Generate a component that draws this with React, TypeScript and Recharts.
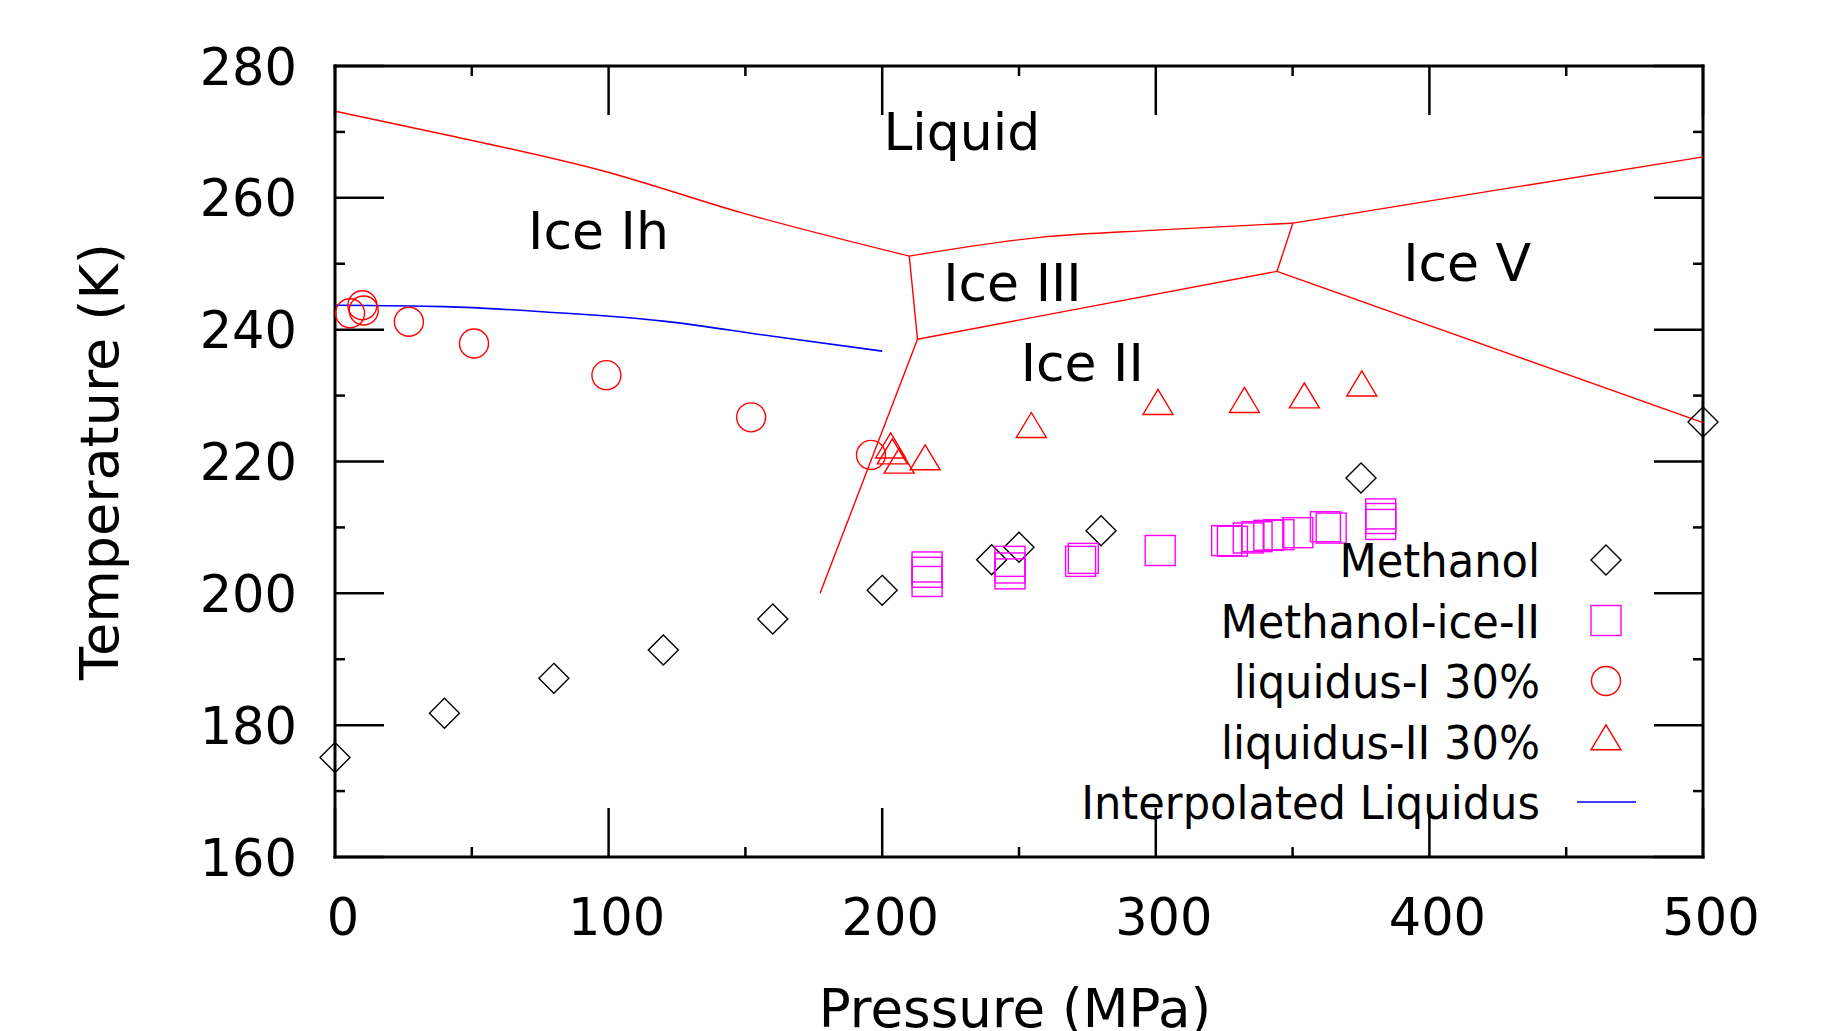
import React from 'react';
import { ScatterChart, Scatter, XAxis, YAxis, Legend } from 'recharts';

const FONT = '"DejaVu Sans", sans-serif';
const RED = '#ff0000';
const MAGENTA = '#ff00ff';
const BLUE = '#0000ff';
const BLACK = '#000000';

const W = 1833;
const H = 1031;

// tick values (major + minor)
const xTicks = [0, 50, 100, 150, 200, 250, 300, 350, 400, 450, 500];
const yTicks = [160, 170, 180, 190, 200, 210, 220, 230, 240, 250, 260, 270, 280];

// [pressure MPa, temperature K]
const methanol = [
  [0, 175.1], [40, 181.8], [80, 187.1], [120, 191.4], [160, 196.1], [200, 200.45],
  [240, 205.1], [250, 207.0], [280, 209.5], [375, 217.5], [500, 226.0],
];
const methanolIceII = [
  [216.4, 204.0], [216.4, 203.2], [216.4, 201.8],
  [246.7, 204.85], [246.7, 203.85], [246.7, 202.95],
  [272.5, 204.85], [273.5, 205.3],
  [301.6, 206.5],
  [325.9, 208.0], [328, 207.9], [333.8, 208.4], [337, 208.6], [341.3, 208.8],
  [345, 208.9], [351.9, 209.2], [362, 210.1], [364.1, 209.9],
  [382.2, 212.05], [382.2, 211.35], [382.2, 210.45],
];
const liquidusI = [
  [5.5, 242.5], [10, 243.7], [10.5, 242.9], [27, 241.2], [50.8, 237.9],
  [99.2, 233.1], [152.1, 226.7], [195.9, 221.0],
];
const liquidusII = [
  [203.1, 221.8], [203.7, 220.9], [206.2, 219.5], [215.7, 220.0], [254.5, 224.9],
  [300.8, 228.4], [332.4, 228.7], [354.3, 229.4], [375.3, 231.2],
];
const interpolated = [
  [0, 243.7], [40, 243.5], [80, 242.6], [120, 241.3], [160, 239.0], [200, 236.75],
];

// phase boundaries of pure water ice
const ihLiquid = [[0, 273.15], [41.3, 269.5], [98.7, 264.0], [149.4, 257.65], [209.9, 251.165]];
const iiiLiquid = [[209.9, 251.165], [257.8, 254.0], [300, 255.1], [350.1, 256.164]];
const vLiquid = [[350.1, 256.164], [425, 261.2], [500, 266.2]];
const ihIII = [[209.9, 251.165], [212.9, 238.55]];
const ihII = [[212.9, 238.55], [177.3, 200]];
const iiIII = [[212.9, 238.55], [344.3, 248.85]];
const iiiV = [[344.3, 248.85], [350.1, 256.164]];
const iiV = [[344.3, 248.85], [500, 225.9]];
const boundaries = [ihLiquid, iiiLiquid, vLiquid, ihIII, ihII, iiIII, iiiV, iiV];

const regionNames = ['Liquid', 'Ice Ih', 'Ice III', 'Ice II', 'Ice V'];
const regionPos = [[229.1, 270.2], [96.3, 255.1], [247.6, 247.3], [273.1, 235.1], [413.8, 250.2]];

const toPts = (arr: number[][]) => arr.map(([p, t]) => ({ p, t }));
const regions = regionPos.map(([p, t], i) => ({ p, t, name: regionNames[i] }));

type Marker = 'diamond' | 'square' | 'circle' | 'triangle';

const drawMarker = (marker: Marker, cx: number, cy: number, color: string) => {
  const sw = 1.4;
  switch (marker) {
    case 'diamond':
      return <path d={`M${cx},${cy - 15}L${cx + 15},${cy}L${cx},${cy + 15}L${cx - 15},${cy}Z`} fill="none" stroke={color} strokeWidth={sw} />;
    case 'square':
      return <rect x={cx - 15} y={cy - 15} width={30} height={30} fill="none" stroke={color} strokeWidth={sw} />;
    case 'circle':
      return <circle cx={cx} cy={cy} r={14.5} fill="none" stroke={color} strokeWidth={sw} />;
    case 'triangle':
      return <path d={`M${cx},${cy - 16.7}L${cx + 15},${cy + 8.3}L${cx - 15},${cy + 8.3}Z`} fill="none" stroke={color} strokeWidth={sw} />;
    default:
      return <g />;
  }
};

const pointSeries: { name: string; data: number[][]; color: string; marker: Marker }[] = [
  { name: 'Methanol', data: methanol, color: BLACK, marker: 'diamond' },
  { name: 'Methanol-ice-II', data: methanolIceII, color: MAGENTA, marker: 'square' },
  { name: 'liquidus-I 30%', data: liquidusI, color: RED, marker: 'circle' },
  { name: 'liquidus-II 30%', data: liquidusII, color: RED, marker: 'triangle' },
];

const MAJOR = 49;
const MINOR = 10;
const TICK_W = 2.5;

const BottomTick = ({ x, y, payload }: any) => {
  const major = payload.value % 100 === 0;
  return (
    <g>
      <line x1={x} y1={y} x2={x} y2={y - (major ? MAJOR : MINOR)} stroke={BLACK} strokeWidth={TICK_W} />
      {major && (
        <text x={x + 8} y={y + 78} textAnchor="middle" fontSize={51} fontFamily={FONT} fill={BLACK}>
          {payload.value}
        </text>
      )}
    </g>
  );
};

const TopTick = ({ x, y, payload }: any) => {
  const major = payload.value % 100 === 0;
  return <line x1={x} y1={y} x2={x} y2={y + (major ? MAJOR : MINOR)} stroke={BLACK} strokeWidth={TICK_W} />;
};

const LeftTick = ({ x, y, payload }: any) => {
  const major = payload.value % 20 === 0;
  return (
    <g>
      <line x1={x} y1={y} x2={x + (major ? MAJOR : MINOR)} y2={y} stroke={BLACK} strokeWidth={TICK_W} />
      {major && (
        <text x={x - 38} y={y} dy={18.5} textAnchor="end" fontSize={51} fontFamily={FONT} fill={BLACK}>
          {payload.value}
        </text>
      )}
    </g>
  );
};

const RightTick = ({ x, y, payload }: any) => {
  const major = payload.value % 20 === 0;
  return <line x1={x} y1={y} x2={x - (major ? MAJOR : MINOR)} y2={y} stroke={BLACK} strokeWidth={TICK_W} />;
};

const LEGEND_LEFT = 934;
const LEGEND_TOP = 530;
const ROW = 60.5;

const renderLegend = () => {
  const rows = [
    ...pointSeries.map((s) => ({ name: s.name, color: s.color, marker: s.marker as Marker | 'line' })),
    { name: 'Interpolated Liquidus', color: BLUE, marker: 'line' as const },
  ];
  return (
    <svg width={704} height={304} style={{ overflow: 'visible' }}>
      {rows.map((r, i) => {
        const cy = 30 + i * ROW;
        return (
          <g key={r.name}>
            <text
              transform={`translate(606, ${cy}) scale(0.92, 1)`}
              dy={17}
              textAnchor="end"
              fontSize={47}
              fontFamily={FONT}
              fill={BLACK}
            >
              {r.name}
            </text>
            {r.marker === 'line' ? (
              <line x1={643} y1={cy} x2={702} y2={cy} stroke={r.color} strokeWidth={1.6} />
            ) : (
              drawMarker(r.marker, 672, cy, r.color)
            )}
          </g>
        );
      })}
    </svg>
  );
};

const axisLine = { stroke: BLACK, strokeWidth: 3, strokeLinecap: 'square' as const };

export default function App() {
  return (
    <div style={{ position: 'absolute', left: 0, top: 0, width: W, height: H, background: '#fff', overflow: 'hidden' }}>
      <ScatterChart width={W} height={H} margin={{ top: 65, right: 129, bottom: 0, left: 0 }}>
        <XAxis
          type="number"
          dataKey="p"
          domain={[0, 500]}
          ticks={xTicks}
          interval={0}
          height={174}
          tickLine={false}
          tickSize={0}
          tickMargin={0}
          tick={BottomTick}
          axisLine={axisLine}
          label={{
            value: 'Pressure (MPa)',
            position: 'insideBottom',
            offset: 4,
            dx: -4,
            style: { fontSize: 53, fontFamily: FONT, fill: BLACK },
          }}
        />
        <XAxis
          xAxisId="top"
          orientation="top"
          type="number"
          dataKey="p"
          domain={[0, 500]}
          ticks={xTicks}
          interval={0}
          height={1}
          tickLine={false}
          tickSize={0}
          tickMargin={0}
          tick={TopTick}
          axisLine={axisLine}
        />
        <YAxis
          type="number"
          dataKey="t"
          domain={[160, 280]}
          ticks={yTicks}
          interval={0}
          width={335}
          tickLine={false}
          tickSize={0}
          tickMargin={0}
          tick={LeftTick}
          axisLine={axisLine}
          label={{
            value: 'Temperature (K)',
            angle: -90,
            position: 'insideLeft',
            offset: 99,
            style: { textAnchor: 'middle', fontSize: 54, fontFamily: FONT, fill: BLACK },
          }}
        />
        <YAxis
          yAxisId="right"
          orientation="right"
          type="number"
          dataKey="t"
          domain={[160, 280]}
          ticks={yTicks}
          interval={0}
          width={1}
          tickLine={false}
          tickSize={0}
          tickMargin={0}
          tick={RightTick}
          axisLine={axisLine}
        />

        {/* invisible series so the mirrored top/right axes get drawn */}
        <Scatter
          xAxisId="top"
          yAxisId="right"
          data={toPts(methanol)}
          shape={() => <g />}
          legendType="none"
          isAnimationActive={false}
        />

        {boundaries.map((b, i) => (
          <Scatter
            key={`boundary-${i}`}
            data={toPts(b)}
            fill={RED}
            stroke={RED}
            line={{ stroke: RED, strokeWidth: 1.4 }}
            lineJointType="monotoneX"
            shape={() => <g />}
            legendType="none"
            isAnimationActive={false}
          />
        ))}

        <Scatter
          name="Interpolated Liquidus"
          data={toPts(interpolated)}
          fill={BLUE}
          stroke={BLUE}
          line={{ stroke: BLUE, strokeWidth: 1.6 }}
          lineJointType="monotoneX"
          shape={() => <g />}
          isAnimationActive={false}
        />

        {pointSeries.map((s) => (
          <Scatter
            key={s.name}
            name={s.name}
            data={toPts(s.data)}
            fill={s.color}
            shape={(props: any) => drawMarker(s.marker, props.cx, props.cy, s.color)}
            isAnimationActive={false}
          />
        ))}

        <Scatter
          data={regions}
          fill={BLACK}
          legendType="none"
          shape={(props: any) => (
            <text x={props.cx} y={props.cy} dy={19} textAnchor="middle" fontSize={52} fontFamily={FONT} fill={BLACK}>
              {props.payload.name}
            </text>
          )}
          isAnimationActive={false}
        />

        <Legend
          content={renderLegend}
          layout="vertical"
          align="center"
          verticalAlign="middle"
          wrapperStyle={{ left: LEGEND_LEFT, top: LEGEND_TOP, width: 704, height: 304 }}
        />
      </ScatterChart>
    </div>
  );
}
